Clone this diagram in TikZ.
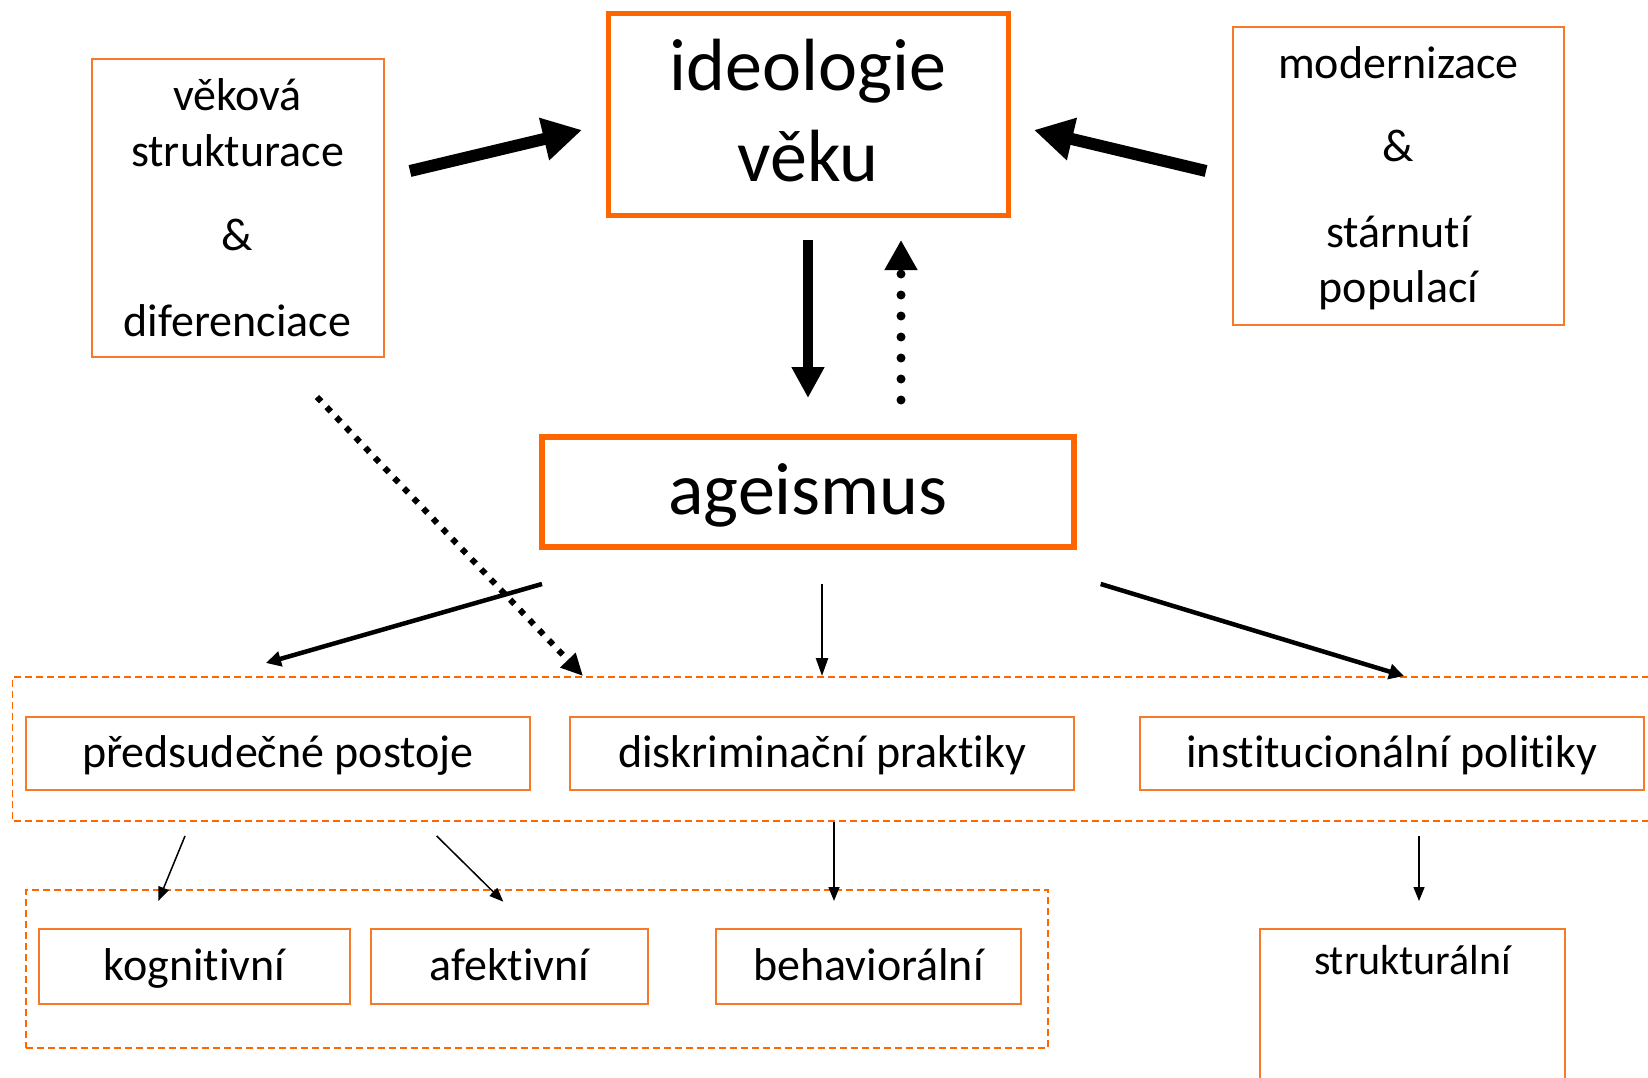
\documentclass[tikz,border=0pt]{standalone}
\usepackage{fontspec}
\setmainfont{Carlito}[Ligatures={NoCommon,NoContextual,NoRare},RawFeature={-liga;-clig;-calt;-dlig}]
\usetikzlibrary{arrows.meta}
\definecolor{orgA}{RGB}{255,102,0}
\definecolor{orgB}{RGB}{246,122,40}
\begin{document}
\begin{tikzpicture}[x=1pt,y=-1pt,
  bigbox/.style={draw=orgA, line width=5pt, inner sep=0pt},
  sidebox/.style={draw=orgB, line width=1.8pt, inner sep=0pt},
  rowbox/.style={draw=orgB, line width=2pt, inner sep=0pt, font=\fontsize{46}{55}\selectfont,
     text height=36.8pt, text depth=9.2pt, minimum height=73pt},
  grpbox/.style={draw=orgA, line width=1.6pt, dash pattern=on 7pt off 4pt},
  bigtxt/.style={font=\fontsize{74}{88}\selectfont, inner sep=0pt, anchor=base},
  midtxt/.style={font=\fontsize{46}{55}\selectfont, inner sep=0pt, anchor=base},
  fatarrow/.style={line width=12pt, -{Triangle[width=41pt,length=39pt]}},
  downarrow/.style={line width=10.5pt, -{Triangle[width=31pt,length=31pt]}},
  dotarrow/.style={line width=9pt, line cap=round, dash pattern=on 0pt off 21pt,
     -{Triangle[width=31pt,length=30pt]}},
  dotdiag/.style={line width=6pt, dash pattern=on 6pt off 8pt,
     -{Triangle[width=20pt,length=22pt]}},
  medarrow/.style={line width=4.5pt, -{Triangle[width=15pt,length=15pt]}},
  midarrow/.style={line width=2.5pt, -{Triangle[width=12pt,length=18pt]}},
  thinarrow/.style={line width=1.5pt, -{Triangle[width=11pt,length=14pt]}}
]
\useasboundingbox[fill=white] (0,0) rectangle (1648,1078);

% dashed groups
\draw[grpbox] (1660,677) -- (12.6,677) -- (12.6,821) -- (1660,821);
\node[grpbox, inner sep=0pt, minimum width=1022pt, minimum height=158pt] (grp2) at (537,969) {};

% top boxes
\node[bigbox, minimum width=400pt, minimum height=201pt] (ideo) at (808,114.5) {};
\node[bigtxt] (ideo1) at (808,90.7) {ideologie};
\node[bigtxt] (ideo2) at (808,181.7) {věku};

\node[sidebox, minimum width=291.5pt, minimum height=298pt] (vek) at (238,208) {};
\node[midtxt] (vek1) at (237.5,110.7) {věková};
\node[midtxt] (vek2) at (237.5,166.7) {strukturace};
\node[midtxt] (vek3) at (237.5,250) {\&};
\node[midtxt] (vek4) at (237.5,336) {diferenciace};

\node[sidebox, minimum width=331pt, minimum height=298pt] (mod) at (1398.5,176) {};
\node[midtxt] (mod1) at (1398.5,79) {modernizace};
\node[midtxt] (mod2) at (1398.5,162) {\&};
\node[midtxt] (mod3) at (1398.5,247) {stárnutí};
\node[midtxt] (mod4) at (1398.5,302) {populací};

% ageismus
\node[bigbox, line width=5.5pt, minimum width=532pt, minimum height=110pt,
  font=\fontsize{74}{88}\selectfont, text height=59.2pt, text depth=14.8pt] (age) at (808,492) {ageismus};

% middle row
\node[rowbox, minimum width=504pt] (pred) at (278,753.5) {předsudečné postoje};
\node[rowbox, minimum width=504pt] (disk) at (822,753.5) {diskriminační praktiky};
\node[rowbox, minimum width=504pt] (inst) at (1392,753.5) {institucionální politiky};

% bottom row
\node[rowbox, minimum width=311pt, minimum height=75pt] (kog) at (194.5,966.5) {kognitivní};
\node[rowbox, minimum width=277pt, minimum height=75pt] (afe) at (509.5,966.5) {afektivní};
\node[rowbox, minimum width=305pt, minimum height=75pt] (beh) at (868.5,966.5) {behaviorální};
\node[sidebox, line width=2pt, minimum width=305pt, minimum height=171pt] (str) at (1412.5,1014.5) {};
\node[font=\fontsize{42}{50}\selectfont, inner sep=0pt, anchor=base] (strt) at (1412.5,974) {strukturální};

% coordinates
\coordinate (a1s) at (410,171);   \coordinate (a1e) at (582,130);
\coordinate (a2s) at (1206,171);  \coordinate (a2e) at (1034,130);
\coordinate (a3s) at (808,240);   \coordinate (a3e) at (808,398);
\coordinate (a4s) at (901,400);   \coordinate (a4e) at (901,240);
\coordinate (a5s) at (317,397);   \coordinate (a5e) at (583,676);
\coordinate (a6s) at (542,584);   \coordinate (a6e) at (266,663);
\coordinate (a7s) at (822,584);   \coordinate (a7e) at (822,676);
\coordinate (a8s) at (1100.7,584);\coordinate (a8e) at (1404,676);
\coordinate (b1s) at (185,836);   \coordinate (b1e) at (158.3,901);
\coordinate (b2s) at (436.7,836); \coordinate (b2e) at (503.3,901.7);
\coordinate (b3s) at (834,822);   \coordinate (b3e) at (834,901);
\coordinate (b4s) at (1419,836);  \coordinate (b4e) at (1419,901);

\draw[fatarrow] (a1s) -- (a1e);
\draw[fatarrow] (a2s) -- (a2e);
\draw[downarrow] (a3s) -- (a3e);
\draw[dotarrow] (a4s) -- (a4e);
\draw[dotdiag] (a5s) -- (a5e);
\draw[medarrow] (a6s) -- (a6e);
\draw[midarrow] (a7s) -- (a7e);
\draw[medarrow] (a8s) -- (a8e);
\draw[thinarrow] (b1s) -- (b1e);
\draw[thinarrow] (b2s) -- (b2e);
\draw[thinarrow] (b3s) -- (b3e);
\draw[thinarrow] (b4s) -- (b4e);
\end{tikzpicture}
\end{document}
